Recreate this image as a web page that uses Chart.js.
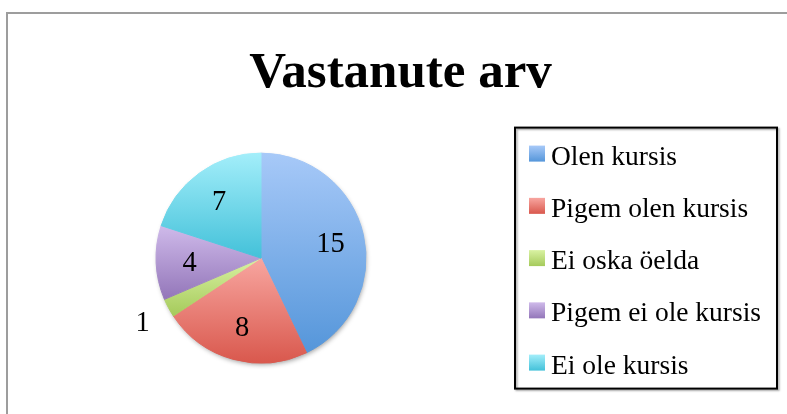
<!DOCTYPE html>
<html><head><meta charset="utf-8">
<script src="https://cdn.jsdelivr.net/npm/chart.js@4.4.1/dist/chart.umd.min.js"></script>
<style>html,body{margin:0;padding:0;background:#fff;overflow:hidden}canvas{display:block}</style>
</head><body>
<canvas id="c" width="787" height="414"></canvas>
<script>
const titleText = 'Vastanute arv';
const categories = ['Olen kursis', 'Pigem olen kursis', 'Ei oska öelda', 'Pigem ei ole kursis', 'Ei ole kursis'];
const responses = [15, 8, 1, 4, 7];
const topColors = ['#a7c9f8', '#f8a6a0', '#d9f2a2', '#cfbaea', '#a3eefa'];
const bottomColors = ['#5596da', '#d9584d', '#a5ca5b', '#9376b9', '#43c1d9'];

const RADIUS = 105;
const LEGEND_SPACE = 279;
const SERIF = '"Liberation Serif", "Times New Roman", serif';

function total() { return responses.reduce((a, b) => a + b, 0); }

function sliceGradient(c) {
  const chart = c.chart, i = c.dataIndex;
  const ca = chart.chartArea;
  if (!ca || i === undefined) return topColors[i || 0];
  const cy = (ca.top + ca.bottom) / 2;
  const t = total();
  let acc = 0;
  for (let j = 0; j < i; j++) acc += responses[j];
  const a0 = -Math.PI / 2 + acc / t * 2 * Math.PI;
  const a1 = a0 + responses[i] / t * 2 * Math.PI;
  const ys = [cy, cy + RADIUS * Math.sin(a0), cy + RADIUS * Math.sin(a1)];
  [Math.PI / 2, 3 * Math.PI / 2].forEach(p => {
    let tt = p;
    while (tt - 2 * Math.PI >= a0) tt -= 2 * Math.PI;
    while (tt < a0) tt += 2 * Math.PI;
    if (tt <= a1) ys.push(cy + RADIUS * Math.sin(p));
  });
  const y0 = Math.min(...ys), y1 = Math.max(...ys);
  const g = chart.ctx.createLinearGradient(0, y0, 0, y1 + 0.01);
  g.addColorStop(0, topColors[i]);
  g.addColorStop(1, bottomColors[i]);
  return g;
}

// custom legend laid out as a box on the right
const legendBox = {
  position: 'right', weight: 0, fullSize: false, options: {},
  top: 0, left: 0, right: 0, bottom: 0, width: 0, height: 0,
  chart: null,
  update(maxWidth, maxHeight) { this.width = LEGEND_SPACE; this.height = maxHeight; },
  isHorizontal() { return false; },
  getPadding() { return {top: 0, left: 0, right: 0, bottom: 0}; },
  draw() {
    const ctx = this.chart.ctx;
    const rx = this.left + 7;
    const ry = (this.top + this.bottom) / 2 - 130.5;
    const rw = 262, rh = 261;
    ctx.save();
    ctx.shadowColor = 'rgba(0,0,0,0.35)';
    ctx.shadowBlur = 2;
    ctx.shadowOffsetX = 1.5;
    ctx.shadowOffsetY = 1.5;
    ctx.lineWidth = 2;
    ctx.strokeStyle = '#000';
    ctx.strokeRect(rx, ry, rw, rh);
    ctx.restore();
    ctx.save();
    ctx.font = '27.5px ' + SERIF;
    ctx.fillStyle = '#000';
    ctx.textBaseline = 'alphabetic';
    ctx.textAlign = 'left';
    categories.forEach((lab, i) => {
      const sy = ry + 18 + i * 52.25;
      const sx = rx + 14;
      const g = ctx.createLinearGradient(0, sy, 0, sy + 16);
      g.addColorStop(0, topColors[i]);
      g.addColorStop(1, bottomColors[i]);
      ctx.fillStyle = g;
      ctx.fillRect(sx, sy, 16, 16);
      ctx.fillStyle = '#000';
      ctx.fillText(lab, sx + 22, sy + 19);
    });
    ctx.restore();
  }
};

const framePlugin = {
  id: 'frame',
  beforeInit(chart) {
    legendBox.chart = chart;
    Chart.layouts.addBox(chart, legendBox);
  },
  beforeDraw(chart) {
    const ctx = chart.ctx;
    ctx.save();
    ctx.fillStyle = '#fff';
    ctx.fillRect(0, 0, chart.width, chart.height);
    ctx.strokeStyle = '#9d9d9d';
    ctx.lineWidth = 2;
    ctx.strokeRect(7, 13, 900, 600);
    ctx.restore();
  },
  beforeDatasetsDraw(chart) {
    const arc = chart.getDatasetMeta(0).data[0];
    if (!arc) return;
    const ctx = chart.ctx;
    ctx.save();
    ctx.shadowColor = 'rgba(0,0,0,0.4)';
    ctx.shadowBlur = 5;
    ctx.shadowOffsetX = 1;
    ctx.shadowOffsetY = 2.5;
    ctx.fillStyle = '#fff';
    ctx.beginPath();
    ctx.arc(arc.x, arc.y, arc.outerRadius - 1, 0, Math.PI * 2);
    ctx.fill();
    ctx.restore();
  },
  afterDatasetsDraw(chart) {
    const ctx = chart.ctx;
    const t = total();
    ctx.save();
    ctx.font = '28.5px ' + SERIF;
    ctx.fillStyle = '#000';
    ctx.textAlign = 'center';
    ctx.textBaseline = 'middle';
    chart.getDatasetMeta(0).data.forEach((arc, i) => {
      const p = arc.getProps(['x', 'y', 'startAngle', 'endAngle', 'outerRadius'], true);
      const mid = (p.startAngle + p.endAngle) / 2;
      const frac = responses[i] / t < 0.05 ? 1.28 : 0.68;
      ctx.fillText(String(responses[i]),
        p.x + Math.cos(mid) * p.outerRadius * frac,
        p.y + Math.sin(mid) * p.outerRadius * frac + 2);
    });
    ctx.restore();
  }
};

new Chart(document.getElementById('c'), {
  type: 'pie',
  data: {
    labels: categories,
    datasets: [{
      data: responses,
      backgroundColor: sliceGradient,
      borderColor: sliceGradient,
      borderWidth: 1,
      radius: RADIUS
    }]
  },
  options: {
    responsive: false,
    devicePixelRatio: 1,
    animation: false,
    layout: {padding: {left: 14, right: 0, top: 0, bottom: 6}},
    plugins: {
      legend: {display: false},
      tooltip: {enabled: false},
      title: {
        display: true,
        text: titleText,
        color: '#000',
        font: {family: SERIF, size: 51, weight: 'bold', lineHeight: 1.2},
        padding: {top: 43, bottom: 4}
      }
    }
  },
  plugins: [framePlugin]
});
</script>
</body></html>
